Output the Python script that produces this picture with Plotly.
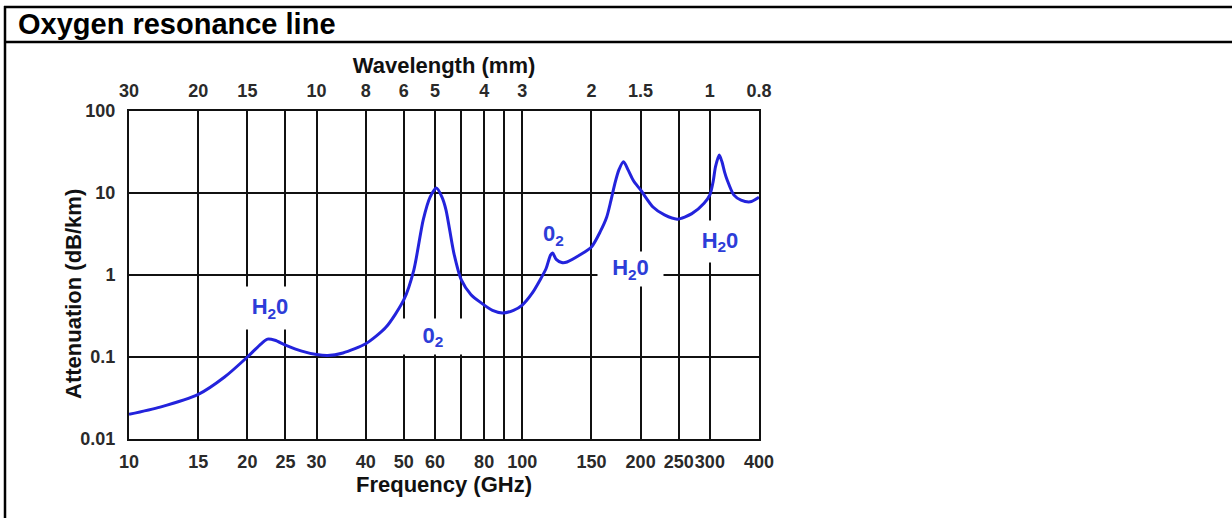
import math
import plotly.graph_objects as go

# ---- data ----
freq_ghz = [10, 12, 15, 17.5, 20, 21.5, 22.5, 23.5, 25, 27.5, 30, 32, 35, 40, 45, 50, 53, 56,
            58.3, 60.5, 62.5, 64, 67, 70, 74, 78, 84, 89, 95, 100, 106, 111, 115, 118, 119.5,
            122, 126, 130, 140, 150, 158, 164, 168, 172, 176, 181, 186, 192, 200, 215, 230,
            248, 270, 290, 300, 306, 310, 317, 322, 327, 332, 345, 360, 380, 400]
atten_db_km = [0.020, 0.0245, 0.035, 0.057, 0.100, 0.140, 0.165, 0.160, 0.140, 0.118, 0.107,
               0.104, 0.112, 0.145, 0.23, 0.50, 1.15, 4.7, 8.9, 11.5, 8.9, 6.2, 1.85, 0.87,
               0.58, 0.47, 0.37, 0.344, 0.37, 0.43, 0.60, 0.87, 1.2, 1.75, 1.85, 1.55, 1.42,
               1.44, 1.75, 2.2, 3.4, 5.1, 8.0, 13, 19, 24, 19, 14, 10.9, 6.75, 5.4, 4.8, 5.6,
               7.5, 9.5, 14, 20.8, 29, 24, 18, 14.4, 9.5, 8.2, 7.8, 8.9]

freq_tick_vals = [10, 15, 20, 25, 30, 40, 50, 60, 80, 100, 150, 200, 250, 300, 400]
freq_tick_text = ["10", "15", "20", "25", "30", "40", "50", "60", "80", "100",
                  "150", "200", "250", "300", "400"]
freq_extra_grid = [70, 90]
wl_tick_vals = [10, 15, 20, 30, 40, 50, 60, 80, 100, 150, 200, 300, 400]
wl_tick_text = ["30", "20", "15", "10", "8", "6", "5", "4", "3", "2", "1.5", "1", "0.8"]
att_tick_vals = [0.01, 0.1, 1, 10, 100]
att_tick_text = ["0.01", "0.1", "1", "10", "100"]

label_text = ["H<sub>2</sub>0", "0<sub>2</sub>", "H<sub>2</sub>0", "H<sub>2</sub>0", "0<sub>2</sub>"]
label_freq = [22.85, 59.4, 188, 319, 119.9]
label_att = [0.40, 0.178, 1.2, 2.56, 3.07]
label_w = [56, 68, 65, 56, None]
label_h = [42, 35, 34, 41, None]

# ---- layout constants ----
W, H = 1232, 518
L, R, T, B = 129, 1232 - 759, 111, 518 - 439
PW, PH = W - L - R, H - T - B

FONT = "Liberation Sans, Arial, Helvetica, sans-serif"
BLUE_LINE = "#2323dc"
BLUE_TEXT = "#2d3dd8"
TICK_COL = "#2a2a2a"


def px_x(p):
    return (p - L) / PW


def px_y(p):
    return (H - B - p) / PH


fig = go.Figure()
fig.add_trace(go.Scatter(
    x=freq_ghz, y=atten_db_km, mode="lines",
    line=dict(color=BLUE_LINE, width=3, shape="spline", smoothing=0.7),
    hoverinfo="x+y", showlegend=False,
))
# invisible trace to activate the top (wavelength) axis
fig.add_trace(go.Scatter(x=[freq_ghz[0]], y=[atten_db_km[0]], xaxis="x2",
                         mode="markers", marker=dict(opacity=0), showlegend=False,
                         hoverinfo="skip"))

axis_common = dict(type="log", showline=True, linecolor="#111", linewidth=2,
                   ticks="", zeroline=False)

fig.update_layout(
    width=W, height=H, autosize=False,
    margin=dict(l=L, r=R, t=T, b=B, pad=0),
    paper_bgcolor="white", plot_bgcolor="white",
    font=dict(family=FONT, color="#111"),
    xaxis=dict(**axis_common, range=[1, math.log10(400)], mirror=True,
               tickvals=freq_tick_vals, ticktext=freq_tick_text, tickangle=0,
               showgrid=True, gridcolor="#111", gridwidth=2,
               minor=dict(tickvals=freq_extra_grid, showgrid=True, gridcolor="#111",
                          gridwidth=2, ticks=""),
               tickfont=dict(size=18, color=TICK_COL, weight="bold"),
               ticklabelstandoff=5,
               title=dict(text="Frequency (GHz)", standoff=1,
                          font=dict(size=22, color="#111", weight="bold"))),
    xaxis2=dict(**axis_common, range=[1, math.log10(400)], overlaying="x", side="top",
                anchor="y", tickvals=wl_tick_vals, ticktext=wl_tick_text, tickangle=0,
                showgrid=False, tickfont=dict(size=18, color=TICK_COL, weight="bold"),
                ticklabelstandoff=5,
                title=dict(text="Wavelength (mm)", standoff=1,
                           font=dict(size=22, color="#111", weight="bold"))),
    yaxis=dict(**axis_common, range=[-2, 2], mirror=True,
               tickvals=att_tick_vals, ticktext=att_tick_text,
               showgrid=True, gridcolor="#111", gridwidth=2,
               tickfont=dict(size=18, color=TICK_COL, weight="bold"),
               ticklabelstandoff=8),
    title=dict(text="Oxygen resonance line", xref="container", yref="container",
               x=18 / W, xanchor="left", y=1 - 24 / H, yanchor="middle",
               font=dict(size=29, color="#000", weight="bold", family=FONT)),
)

# y-axis title
fig.add_annotation(text="Attenuation (dB/km)", xref="paper", yref="paper",
                   x=px_x(73), y=px_y(294), textangle=-90, showarrow=False,
                   font=dict(size=22, color="#111", weight="bold"),
                   xanchor="center", yanchor="middle")

# curve labels (white boxes break the grid as in the original)
for t, fx, fy, bw, bh in zip(label_text, label_freq, label_att, label_w, label_h):
    ann = dict(text=t, x=math.log10(fx), y=math.log10(fy), xref="x", yref="y",
               showarrow=False, font=dict(size=22, color=BLUE_TEXT, weight="bold"),
               borderpad=0)
    if bw is not None:
        ann.update(width=bw, height=bh, bgcolor="white")
    fig.add_annotation(**ann)

# outer frame of the figure block (left, top, header separator)
frame = dict(type="line", xref="paper", yref="paper", line=dict(color="#000", width=2.5))
fig.add_shape(**frame, x0=px_x(5), x1=px_x(5), y0=px_y(6), y1=px_y(H + 2))
fig.add_shape(**frame, x0=px_x(4), x1=px_x(W + 2), y0=px_y(7), y1=px_y(7))
fig.add_shape(**frame, x0=px_x(4), x1=px_x(W + 2), y0=px_y(42), y1=px_y(42))

fig.write_html("out.html", config={"displayModeBar": False},
               post_script="document.body.style.margin='0';document.body.style.overflow='hidden';")
